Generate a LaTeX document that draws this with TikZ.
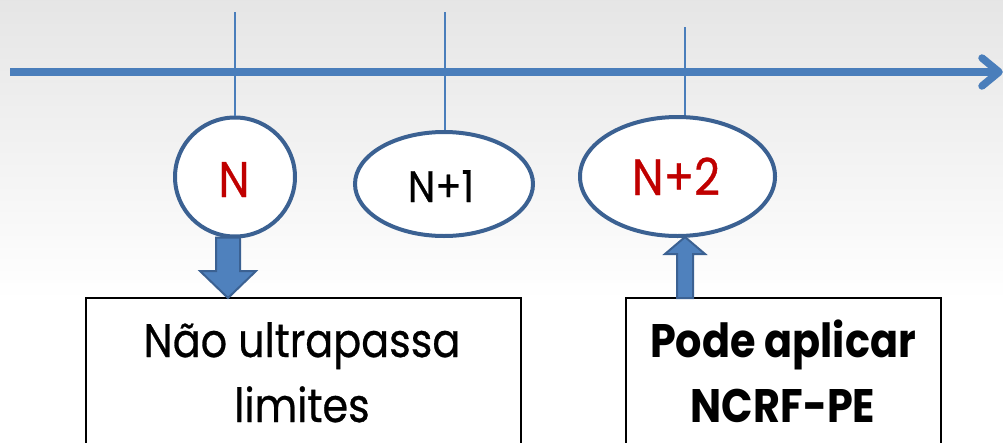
\documentclass[tikz,border=0pt]{standalone}
\usepackage{fontspec}
\setmainfont{Poppins}[FakeStretch=0.88]
\newfontfamily\booktext{Poppins}[FakeStretch=0.88,FakeBold=0.6]
\usetikzlibrary{shapes.geometric,calc}
\definecolor{axisblue}{HTML}{4A7EBB}
\definecolor{rimblue}{HTML}{3B6192}
\definecolor{fillblue}{HTML}{4F81BD}
\definecolor{darkred}{HTML}{C00000}
\begin{document}
\begin{tikzpicture}[x=1pt,y=-1pt,
  axisline/.style={axisblue,line width=7.5pt},
  tickline/.style={axisblue,line width=1.3pt},
  period/.style={ellipse,draw=rimblue,line width=4pt,fill=white,inner sep=0pt},
  notebox/.style={rectangle,draw=black,line width=2pt,fill=white,anchor=north west,inner sep=0pt},
  blockarrow/.style={fill=fillblue,draw=rimblue,line width=2pt,line join=miter},
  label/.style={anchor=base,inner sep=0pt},
  boxtext/.style={label,font=\fontsize{47}{56}\selectfont\booktext},
  boldtext/.style={label,font=\fontsize{47}{56}\selectfont\bfseries},
  ]
  % page and soft grey backdrop
  \useasboundingbox (0,0) rectangle (1003,442);
  \clip (0,0) rectangle (1003,442);
  \fill[white] (0,0) rectangle (1003,442);
  \shade[top color=black!10,bottom color=white] (0,0) rectangle (1003,300);

  % time axis
  \coordinate (a0) at (10,72);
  \coordinate (a1) at (999,72);
  \draw[axisline] (a0) -- (a1);
  \draw[axisline,line cap=round,line join=round] (982,58) -- (a1) -- (982,86);

  % periods
  \node[period,minimum width=120pt,minimum height=119pt] (N) at (235,177) {};
  \node[period,minimum width=178pt,minimum height=104pt] (N1) at (444,184) {};
  \node[period,minimum width=195pt,minimum height=119pt] (N2) at (677.5,176.5) {};
  \node[label,darkred,font=\fontsize{50}{50}\selectfont\booktext] at (234,197) {N};
  \node[label,black,font=\fontsize{44}{44}\selectfont\booktext] at (441,202) {N+1};
  \node[label,darkred,font=\fontsize{51}{51}\selectfont\booktext] at (676,195) {N+2};

  % ticks on the axis
  \coordinate (t0) at (235,12);
  \coordinate (t1) at (445,12);
  \coordinate (t2) at (685,27);
  \draw[tickline] (t0) -- (N.north);
  \draw[tickline] (t1) -- (t1 |- N1.north);
  \draw[tickline] (t2) -- (t2 |- N2.north);

  % notes
  \node[notebox,minimum width=435pt,minimum height=200pt] (B1) at (85,297) {};
  \node[notebox,minimum width=315pt,minimum height=200pt] (B2) at (625,297) {};
  \node[boxtext] at (302,357) {Não ultrapassa};
  \node[boxtext] at (302,422) {limites};
  \node[boldtext] at (783,357) {Pode aplicar};
  \node[boldtext] at (783,422) {NCRF-PE};

  % block arrow from N down to its note
  \coordinate (d0) at ($(N.south)+(-7,-1)$);
  \coordinate (d1) at (d0 |- B1.north);
  \draw[blockarrow] ($(d0)+(-12,0)$) -- ($(d1)+(-12,-26)$) -- ($(d1)+(-28,-26)$)
    -- ($(d1)+(0,1)$) -- ($(d1)+(28,-26)$) -- ($(d1)+(12,-26)$) -- ($(d0)+(12,0)$) -- cycle;

  % block arrow from the note up to N+2
  \coordinate (u0) at (685,297);
  \coordinate (u1) at (u0 |- N2.south);
  \draw[blockarrow] ($(u0)+(-8,1)$) -- ($(u1)+(-8,16)$) -- ($(u1)+(-20,16)$)
    -- ($(u1)+(0,-1)$) -- ($(u1)+(20,16)$) -- ($(u1)+(8,16)$) -- ($(u0)+(8,1)$) -- cycle;
\end{tikzpicture}
\end{document}
